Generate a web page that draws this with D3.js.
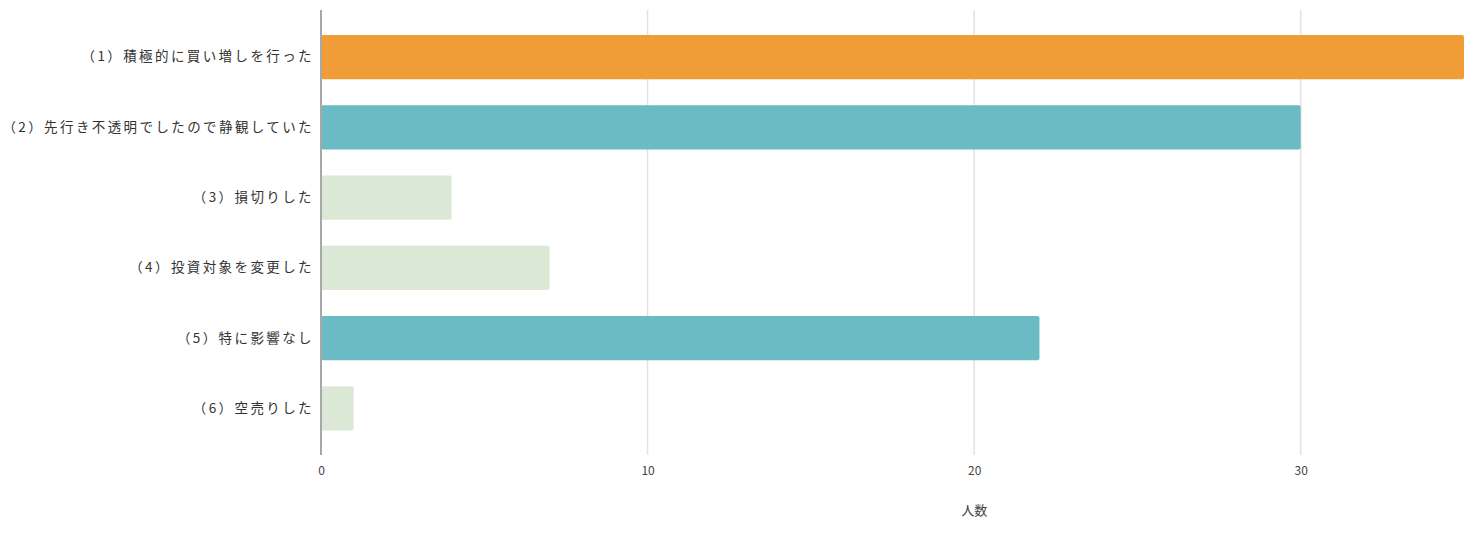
<!DOCTYPE html>
<html><head><meta charset="utf-8">
<script src="https://cdn.jsdelivr.net/npm/d3@7"></script>
<style>body{margin:0;background:#fff;} text{font-family:"Noto Sans CJK JP","Noto Sans",sans-serif;}</style>
</head><body>
<svg id="chart" width="1481" height="540"></svg>
<script>
const categories = ["（1）積極的に買い増しを行った","（2）先行き不透明でしたので静観していた","（3）損切りした","（4）投資対象を変更した","（5）特に影響なし","（6）空売りした"];
const values = [35, 30, 4, 7, 22, 1];
const barColors = ["#F09D38", "#6ABBC4", "#DCE8D6", "#DCE8D6", "#6ABBC4", "#DCE8D6"];
const tickValues = [0, 10, 20, 30];
const axisTitle = "人数";

const svg = d3.select("#chart");
const x = d3.scaleLinear().domain([0, 35]).range([321, 1464]);
const y = d3.scaleBand().domain(categories).range([22, 443.6]).paddingInner(0.37).paddingOuter(0.185);

// grid
svg.append("g").selectAll("line").data(tickValues.filter(d => d > 0)).join("line")
  .attr("x1", d => x(d)).attr("x2", d => x(d)).attr("y1", 10).attr("y2", 455)
  .attr("stroke", "#e2e2e2").attr("stroke-width", 1.5);

// bars
svg.append("g").selectAll("rect").data(values).join("rect")
  .attr("x", x(0)).attr("y", (d, i) => y(categories[i]))
  .attr("width", d => x(d) - x(0)).attr("height", y.bandwidth())
  .attr("rx", 2).attr("fill", (d, i) => barColors[i]);

// axis line
svg.append("line").attr("x1", x(0)).attr("x2", x(0)).attr("y1", 10).attr("y2", 455)
  .attr("stroke", "#a8a8a8").attr("stroke-width", 2);

// y labels
const yAxis = d3.axisLeft(y).tickSize(0).tickPadding(7);
const gy = svg.append("g").attr("transform", `translate(${x(0)},0)`).call(yAxis);
gy.select(".domain").remove();
gy.selectAll("text").attr("font-size", 13.5).attr("fill", "#333")
  .style("letter-spacing", "2.4px")
  .style("font-family", '"Noto Sans CJK JP", sans-serif');

// x tick labels
const xAxis = d3.axisBottom(x).tickValues(tickValues).tickSize(0).tickPadding(0);
const gx = svg.append("g").attr("transform", `translate(0,466)`).call(xAxis);
gx.select(".domain").remove();
gx.selectAll("text").attr("font-size", 12).attr("fill", "#444")
  .style("font-family", '"Noto Sans CJK JP", sans-serif');

svg.append("text").attr("x", x(20)).attr("y", 515).attr("text-anchor", "middle")
  .attr("font-size", 13).attr("fill", "#444").text(axisTitle);
</script>
</body></html>
